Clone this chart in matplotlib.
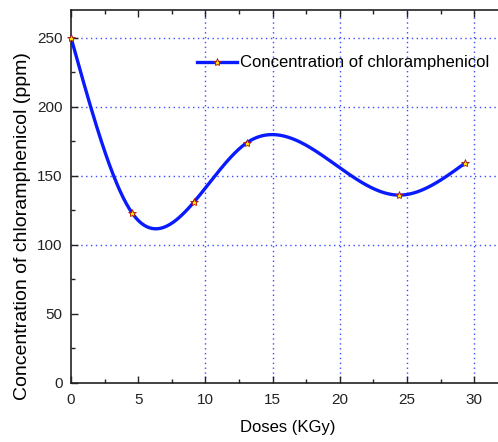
import numpy as np
import matplotlib
matplotlib.use("Agg")
import matplotlib.pyplot as plt
from matplotlib.ticker import MultipleLocator

plt.rcParams["font.family"] = ["Liberation Sans", "DejaVu Sans"]

# ── Data ────────────────────────────────────────────────────────────
doses = [0.0, 4.55, 9.15, 13.1, 24.4, 29.3]
conc = [250.0, 123.0, 131.0, 174.0, 136.0, 159.0]
grid_x = [10, 15, 20, 25, 30]
grid_y = [100, 150, 200, 250]


def natural_spline(x, y, n=400):
    # plain natural cubic spline, like Origin's "spline" connect
    x = np.asarray(x, float)
    y = np.asarray(y, float)
    k = len(x)
    h = np.diff(x)
    A = np.zeros((k, k))
    b = np.zeros(k)
    A[0, 0] = A[-1, -1] = 1
    for i in range(1, k - 1):
        A[i, i - 1] = h[i - 1]
        A[i, i] = 2 * (h[i - 1] + h[i])
        A[i, i + 1] = h[i]
        b[i] = 3 * ((y[i + 1] - y[i]) / h[i] - (y[i] - y[i - 1]) / h[i - 1])
    c = np.linalg.solve(A, b)
    xs = np.linspace(x[0], x[-1], n)
    idx = np.clip(np.searchsorted(x, xs) - 1, 0, k - 2)
    dx = xs - x[idx]
    hi = h[idx]
    bb = (y[idx + 1] - y[idx]) / hi - hi * (2 * c[idx] + c[idx + 1]) / 3
    dd = (c[idx + 1] - c[idx]) / (3 * hi)
    ys = y[idx] + bb * dx + c[idx] * dx ** 2 + dd * dx ** 3
    return xs, ys


fig = plt.figure(figsize=(4.98, 4.42), dpi=100)
ax = fig.add_axes([0.1426, 0.1335, 0.8635, 0.8439])

for gx in grid_x:
    ax.axvline(gx, color="#3a4cff", linestyle=(0, (1, 2.5)), linewidth=1.0, zorder=0)
for gy in grid_y:
    ax.axhline(gy, color="#3a4cff", linestyle=(0, (1, 2.5)), linewidth=1.0, zorder=0)

xs, ys = natural_spline(doses, conc)
ax.plot(xs, ys, color="#0a1aff", linewidth=2.4, zorder=2)
ax.plot(doses, conc, linestyle="none", marker="*", markersize=6,
        markerfacecolor="#ffe000", markeredgecolor="#b01010",
        markeredgewidth=0.6, zorder=3, clip_on=False)

# legend handle: line with marker
ax.plot([], [], color="#0a1aff", linewidth=2.4, marker="*", markersize=6,
        markerfacecolor="#ffe000", markeredgecolor="#b01010",
        markeredgewidth=0.6, label="Concentration of chloramphenicol")
ax.legend(loc="center left", bbox_to_anchor=(0.293, 0.858), frameon=False,
          fontsize=12, handlelength=2.4, handletextpad=0.2,
          borderaxespad=0, borderpad=0)

ax.set_xlim(0, 32)
ax.set_ylim(0, 270)
ax.xaxis.set_major_locator(MultipleLocator(5))
ax.xaxis.set_minor_locator(MultipleLocator(2.5))
ax.yaxis.set_major_locator(MultipleLocator(50))
ax.yaxis.set_minor_locator(MultipleLocator(25))
ax.tick_params(which="both", direction="in", top=True, right=False,
               labelsize=11, colors="#222222")
ax.tick_params(which="major", length=5, width=1)
ax.tick_params(which="minor", length=3, width=1)
ax.tick_params(axis="x", pad=7)
ax.tick_params(axis="y", pad=6)
for s in ax.spines.values():
    s.set_linewidth(1.2)
    s.set_color("#222222")

ax.set_xlabel("Doses (KGy)", fontsize=12)
ax.set_ylabel("Concentration of chloramphenicol (ppm)", fontsize=14)
ax.xaxis.set_label_coords((288 - 71) / 430, (383 - 420) / 373)
ax.yaxis.set_label_coords((31 - 71) / 430, (383 - 226) / 373)

fig.savefig("out.png", dpi=100)
